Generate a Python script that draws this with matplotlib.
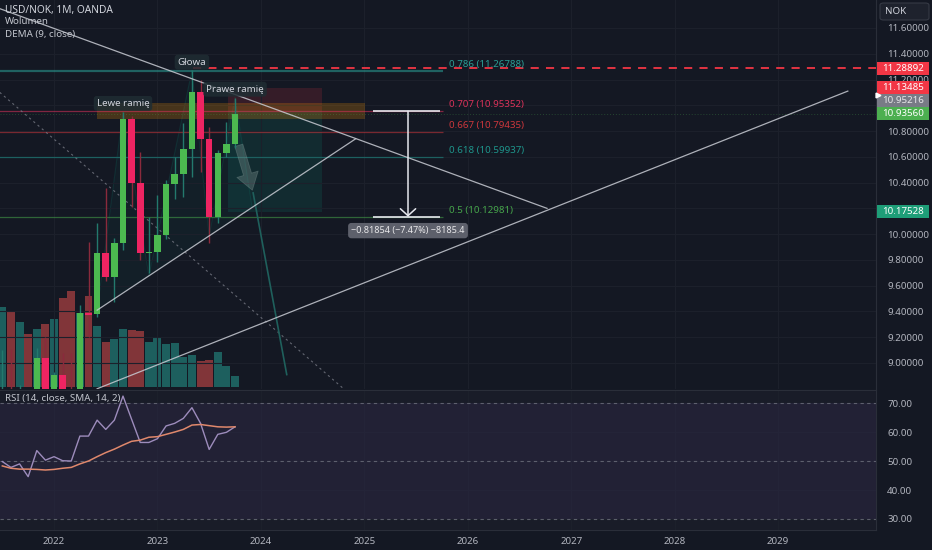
import matplotlib
matplotlib.use('Agg')
import matplotlib.pyplot as plt
from matplotlib.patches import Rectangle, Polygon, FancyBboxPatch
from matplotlib.ticker import FormatStrFormatter, FuncFormatter
from matplotlib.colors import to_rgba

plt.rcParams['font.family'] = ['Noto Sans', 'DejaVu Sans']

BG = '#141823'
GRID = '#1c202b'
TXT = '#b2b5be'
UP = '#4cb950'
DN = '#ee2462'
UP_WICK = '#23796d'
DN_WICK = '#8a2a3c'

# ---- data, month index (0 = Jan 2022) ----
months = list(range(-6, 22))
opens = [8.55, 8.79, 8.70, 8.75, 8.42, 9.04, 8.79, 8.91, 8.79, 8.74, 9.39, 9.38, 9.85, 9.67,
         9.93, 10.89, 10.40, 9.85, 9.86, 9.99, 10.39, 10.47, 10.66, 11.10, 10.74, 10.13, 10.63, 10.70]
highs = [9.10, 9.11, 8.83, 8.80, 9.12, 9.20, 8.93, 9.08, 9.08, 9.45, 9.94, 10.09, 10.36, 9.97,
         10.95, 10.92, 10.64, 10.13, 10.30, 10.42, 10.60, 10.86, 11.27, 11.20, 10.83, 10.65, 10.87, 11.06]
lows = [8.50, 8.62, 8.55, 8.35, 8.40, 8.74, 8.72, 8.72, 8.66, 8.72, 9.20, 9.36, 9.64, 9.47,
        9.88, 10.21, 9.80, 9.70, 9.78, 9.96, 10.27, 10.29, 10.44, 10.48, 9.93, 10.09, 10.60, 10.67]
closes = [8.79, 8.70, 8.75, 8.42, 9.04, 8.79, 8.91, 8.79, 8.74, 9.39, 9.37, 9.85, 9.67, 9.93,
          10.89, 10.40, 9.85, 9.86, 9.99, 10.39, 10.47, 10.66, 11.10, 10.74, 10.13, 10.63, 10.70, 10.9356]
volume = [80, 75, 65, 53, 58, 63, 68, 89, 96, 74, 91, 61, 45, 48,
          58, 57, 56, 45, 50, 43, 44, 30, 32, 26, 27, 35, 21, 11]
rsi = [49.8, 47.8, 49.0, 44.6, 53.6, 50.3, 51.5, 50.1, 50.0, 58.6, 58.6, 64.1, 60.9, 64.1,
       72.4, 64.4, 56.4, 56.4, 57.7, 62.1, 63.0, 64.7, 68.4, 63.0, 54.0, 59.2, 59.9, 61.8]
rsi_ma = [48.3, 47.5, 47.2, 47.2, 47.1, 46.9, 47.1, 47.5, 47.8, 49.0, 50.0, 51.5, 52.9, 54.1,
          55.5, 56.8, 57.2, 58.2, 58.4, 59.2, 60.0, 60.9, 62.4, 62.6, 62.2, 61.8, 61.7, 61.8]

year_ticks = [0, 12, 24, 36, 48, 60, 72, 84]
year_labels = ['2022', '2023', '2024', '2025', '2026', '2027', '2028', '2029']
price_ticks = [9.0, 9.2, 9.4, 9.6, 9.8, 10.0, 10.2, 10.4, 10.6, 10.8, 11.0, 11.2, 11.4, 11.6]
covered_ticks = [10.2, 11.0]   # hidden behind the price labels
rsi_ticks = [30, 40, 50, 60, 70]

# fibonacci retracement
fib_levels = [0.786, 0.707, 0.667, 0.618, 0.5]
fib_prices = [11.26788, 10.95352, 10.79435, 10.59937, 10.12981]
fib_colors = ['#2aa096', '#dc325a', '#cd373c', '#1e968c', '#46a54b']
fib_start, fib_end = -10, 45.1

# drawings (month, price)
trend_down = [(-6.3, 11.75), (57.2, 10.20)]
neckline = [(5.0, 9.41), (35.0, 10.74)]
trend_up = [(5.0, 8.80), (92.1, 11.11)]
dotted = [(-6.3, 11.10), (33.6, 8.80)]
proj_line = [(23.1, 10.32), (27.0, 8.91)]
proj_arrow = [(21.35, 10.71), (23.1, 10.32)]
hs_m = [5.0, 8.0, 11.0, 16.0, 18.0, 21.0, 23.0]
hs_p = [9.41, 10.95, 9.675, 11.27, 9.985, 11.06, 10.20]
hs_names = {1: 'Lewe ramię', 3: 'Głowa', 5: 'Prawe ramię'}

stop_level = 11.28892
band = (5.0, 36.1, 10.894, 11.018)
pos_x = (20.2, 31.1)
pos_entry, pos_stop, pos_target = 10.95216, 11.13485, 10.17528
measure_x, measure_cap = 41.07, (37.0, 44.8)
measure_top, measure_bot = 10.95352, 10.13498
measure_text = '\u22120.81854 (\u22127.47%) \u22128185.4'
last_close = 10.93560

axis_labels = [(11.28892, '#f23645', 0), (11.13485, '#f23645', 0), (10.95216, '#787b86', 10.5),
               (10.93560, '#4caf50', 0), (10.17528, '#1e9e78', 0)]

W, H = 932, 550
XLIM = (-6.27, 95.37)
YLIM = (8.798, 11.817)
RSI_LIM = (26.2, 74.5)


def rect(x0, y0, x1, y1):
    return [x0 / W, 1 - y1 / H, (x1 - x0) / W, (y1 - y0) / H]


def fpos(x, y):
    return x / W, 1 - y / H


def price_fmt(v, pos):
    if any(abs(v - c) < 1e-6 for c in covered_ticks):
        return ''
    return f'{v:.5f}'


fig = plt.figure(figsize=(9.32, 5.5), dpi=100)
fig.patch.set_facecolor(BG)

ax_vol = fig.add_axes(rect(0, 0, 876, 389), zorder=1)
ax = fig.add_axes(rect(0, 0, 876, 389), zorder=2)
ax_rsi = fig.add_axes(rect(0, 390, 876, 530), zorder=2)
ax_px = fig.add_axes(rect(876, 0, 932, 389), zorder=5)

for a in (ax_vol, ax, ax_rsi):
    a.set_xlim(*XLIM)
    for s in a.spines.values():
        s.set_visible(False)

# volume
ax_vol.set_facecolor(BG)
up = [c >= o for o, c in zip(opens, closes)]
vol_col = [to_rgba('#26a69a', 0.5) if u else to_rgba('#ef5350', 0.5) for u in up]
ax_vol.bar(months, volume, width=0.92, color=vol_col, lw=0)
ax_vol.set_ylim(-2, 387)
ax_vol.set_xticks([])
ax_vol.set_yticks([])

# main pane
ax.patch.set_visible(False)
ax.set_ylim(*YLIM)
ax.set_xticks(year_ticks)
ax.set_yticks(price_ticks)
ax.grid(True, color=GRID, lw=0.8, zorder=0)
ax.yaxis.tick_right()
ax.yaxis.set_major_formatter(FuncFormatter(price_fmt))
ax.tick_params(axis='y', length=0, pad=8, labelsize=7, labelcolor=TXT)
ax.tick_params(axis='x', length=0, labelbottom=False)
ax.spines['right'].set_visible(True)
ax.spines['right'].set_color('#2a2e39')

# H&S pattern
for i in (0, 2, 4):
    tri = Polygon(list(zip(hs_m[i:i + 3], hs_p[i:i + 3])), closed=True, fc='#089981', alpha=0.06,
                  ec='none', zorder=1)
    ax.add_patch(tri)
ax.plot(hs_m, hs_p, color='#089981', alpha=0.15, lw=0.8, zorder=1)

# zones
ax.add_patch(Rectangle((band[0], band[2]), band[1] - band[0], band[3] - band[2],
                       fc='#ff9800', alpha=0.22, lw=0, zorder=2))
ax.add_patch(Rectangle((pos_x[0], pos_entry), pos_x[1] - pos_x[0], pos_stop - pos_entry,
                       fc='#f23645', alpha=0.15, lw=0, zorder=1))
ax.add_patch(Rectangle((pos_x[0], pos_target), pos_x[1] - pos_x[0], pos_entry - pos_target,
                       fc='#089981', alpha=0.15, lw=0, zorder=1))

# fib levels
for lvl, p, c in zip(fib_levels, fib_prices, fib_colors):
    ax.hlines(p, fib_start, fib_end, color=c, alpha=0.55, lw=1.6 if lvl == 0.786 else 0.9, zorder=2)
    ax.annotate(f'{lvl} ({p:.5f})', xy=(fib_end, p), xytext=(4.5, 4.8), textcoords='offset points',
                color=c, fontsize=7, va='center', ha='left', zorder=6)

ax.axhline(last_close, color='#4caf50', alpha=0.3, lw=0.7, ls=(0, (1, 2)), zorder=2)
ax.hlines(stop_level, 16.1, XLIM[1], color='#f23645', lw=1.3, ls=(0, (4.5, 4)), zorder=3)

# trend lines
for ln in (trend_down, neckline, trend_up):
    ax.plot([ln[0][0], ln[1][0]], [ln[0][1], ln[1][1]], color='#c9ccd4', lw=0.9, alpha=0.85, zorder=5)
ax.plot([dotted[0][0], dotted[1][0]], [dotted[0][1], dotted[1][1]], color='#787b86', lw=0.8,
        ls=(0, (2, 3)), alpha=0.8, zorder=2)
ax.plot([proj_line[0][0], proj_line[1][0]], [proj_line[0][1], proj_line[1][1]], color='#1f605c',
        lw=1.2, zorder=2)
ax.annotate('', xy=proj_arrow[1], xytext=proj_arrow[0],
            arrowprops=dict(arrowstyle='simple,head_length=1.2,head_width=1.6,tail_width=0.6',
                            mutation_scale=10, fc='#8fa3a0', ec='#8fa3a0', alpha=0.3, lw=0.6),
            zorder=3)

# candles
wick_col = [UP_WICK if u else DN_WICK for u in up]
body_col = [UP if u else DN for u in up]
ax.vlines(months, lows, highs, colors=wick_col, lw=1, zorder=3)
ax.bar(months, [c - o for o, c in zip(opens, closes)], bottom=opens, width=0.76,
       color=body_col, lw=0, zorder=4)

for i, name in hs_names.items():
    ax.annotate(name, xy=(hs_m[i], highs[months.index(int(hs_m[i]))]), xytext=(0, 6),
                textcoords='offset points', ha='center', va='center', fontsize=7, color='#d1d4dc',
                bbox=dict(boxstyle='round,pad=0.3', fc='#1f2d33', ec='none', alpha=0.85), zorder=7)

# measure tool
for p in (measure_top, measure_bot):
    ax.hlines(p, measure_cap[0], measure_cap[1], color='#e6e8ee', lw=1.2, zorder=6)
ax.annotate('', xy=(measure_x, measure_bot), xytext=(measure_x, measure_top),
            arrowprops=dict(arrowstyle='->,head_length=0.5,head_width=0.55', mutation_scale=10,
                            color='#e6e8ee', lw=1.1, shrinkA=0, shrinkB=0), zorder=6)
ax.annotate(measure_text, xy=(measure_x, measure_bot), xytext=(0, -10), textcoords='offset points',
            ha='center', va='center', fontsize=6.5, color='#e8e8ea',
            bbox=dict(boxstyle='round,pad=0.35', fc='#5d606b', ec='none'), zorder=7)

# RSI pane
ax_rsi.set_facecolor('#191c28')
ax_rsi.set_ylim(*RSI_LIM)
ax_rsi.axhspan(30, 70, color='#7e57c2', alpha=0.09, lw=0)
for lvl in (70, 50, 30):
    ax_rsi.axhline(lvl, color='#787b86', lw=0.8, ls=(0, (3, 3)), alpha=0.7)
ax_rsi.plot(months, rsi, color='#9d8cbc', lw=1)
ax_rsi.plot(months, rsi_ma, color='#e0886c', lw=1.1)
ax_rsi.set_yticks(rsi_ticks)
ax_rsi.set_xticks(year_ticks)
ax_rsi.set_xticklabels(year_labels)
ax_rsi.grid(True, color=GRID, lw=0.8)
ax_rsi.set_axisbelow(True)
ax_rsi.yaxis.tick_right()
ax_rsi.yaxis.set_major_formatter(FormatStrFormatter('%.2f'))
ax_rsi.tick_params(axis='y', length=0, pad=8, labelsize=7, labelcolor=TXT)
ax_rsi.tick_params(axis='x', length=0, pad=5, labelsize=7, labelcolor=TXT)
for t in ax_rsi.get_xticklabels():
    t.set_fontweight('bold')
for s in ('top', 'bottom', 'right'):
    ax_rsi.spines[s].set_visible(True)
    ax_rsi.spines[s].set_color('#2a2e39')

# price scale labels
ax_px.set_ylim(*YLIM)
ax_px.set_xlim(0, 1)
ax_px.axis('off')
half = 6.5 * (YLIM[1] - YLIM[0]) / 389
for p, c, shift in axis_labels:
    yc = p + shift * (YLIM[1] - YLIM[0]) / 389
    ax_px.add_patch(Rectangle((0.018, yc - half), 0.93, 2 * half, fc=c, ec='none', clip_on=False))
    ax_px.text(0.48, yc, f'{p:.5f}', ha='center', va='center', fontsize=7,
               color='#e8e8ea' if c == '#787b86' else 'white', clip_on=False)
ax_px.plot([0.03], [11.08], marker='>', color='white', ms=3.5, clip_on=False)

fig.patches.append(FancyBboxPatch(fpos(880, 20), 49 / W, 17 / H, boxstyle='round,pad=0,rounding_size=0.004',
                                  transform=fig.transFigure, fc='#1e222d', ec='#363a45', lw=0.8))
fig.text(*fpos(885, 11.5), 'NOK', fontsize=7, color='#d1d4dc', va='center', ha='left')

fig.text(*fpos(5, 10), 'USD/NOK, 1M, OANDA', fontsize=7.3, color='#d1d4dc', va='center')
fig.text(*fpos(5, 22), 'Wolumen', fontsize=7, color='#c3c6ce', va='center')
fig.text(*fpos(5, 34), 'DEMA (9, close)', fontsize=7, color='#c3c6ce', va='center')
fig.text(*fpos(5, 399), 'RSI (14, close, SMA, 14, 2)', fontsize=7, color='#c3c6ce', va='center')

fig.savefig('out.png', dpi=100, facecolor=BG)
